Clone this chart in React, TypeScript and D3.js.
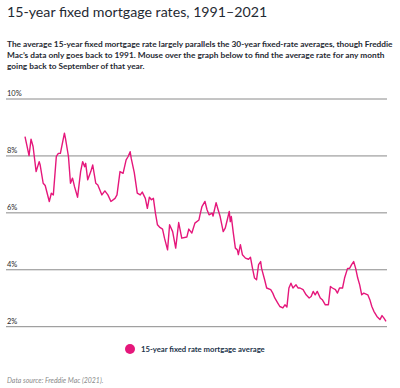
import React from "react";
import * as d3 from "d3";

const dates = [
  "1991-09","1992-01","1992-03","1992-05","1992-08","1992-11","1992-12","1993-03","1993-05","1993-09",
  "1993-11","1994-01","1994-04","1994-06","1994-08","1994-12","1995-01","1995-04","1995-06","1995-08",
  "1995-10","1996-01","1996-04","1996-06","1996-08","1996-09","1996-11","1997-02","1997-04","1997-07",
  "1997-09","1998-01","1998-04","1998-07","1998-10","1999-02","1999-04","1999-07","1999-10","2000-01",
  "2000-03","2000-05","2000-06","2000-09","2000-12","2001-03","2001-05","2001-08","2001-10","2001-12",
  "2002-02","2002-04","2002-06","2002-08","2002-10","2003-01","2003-03","2003-06","2003-08","2003-11",
  "2004-02","2004-05","2004-08","2005-01","2005-03","2005-06","2005-09","2006-01","2006-02","2006-04",
  "2006-07","2006-09","2006-11","2007-02","2007-03","2007-06","2007-08","2007-10","2008-01","2008-03",
  "2008-05","2008-07","2008-08","2008-09","2008-11","2009-01","2009-03","2009-04","2009-06","2009-08",
  "2009-11","2010-02","2010-04","2010-06","2010-08","2010-10","2010-12","2011-02","2011-03","2011-06",
  "2011-08","2011-12","2012-02","2012-04","2012-07","2012-09","2012-12","2013-02","2013-04","2013-06",
  "2013-08","2013-10","2014-01","2014-03","2014-05","2014-08","2014-11","2015-02","2015-04","2015-06",
  "2015-08","2015-10","2016-01","2016-03","2016-06","2016-09","2016-11","2017-01","2017-04","2017-06",
  "2017-08","2017-11","2018-01","2018-04","2018-06","2018-08","2018-10","2018-12","2019-02","2019-04",
  "2019-06","2019-08","2019-12","2020-02","2020-04","2020-06","2020-09","2020-12","2021-02","2021-04",
  "2021-06",
];

const rates = [
  8.68,8.01,8.59,8.33,7.45,7.80,7.68,7.04,6.96,6.40,
  6.69,6.63,7.98,8.09,8.09,8.80,8.62,7.98,7.04,7.22,
  6.92,6.55,7.45,7.80,7.62,7.74,7.16,7.45,7.68,7.04,
  6.98,6.63,6.77,6.63,6.40,6.51,6.63,7.45,7.39,7.86,
  7.98,8.15,7.92,7.42,6.69,6.63,6.73,6.51,6.16,6.55,
  6.46,6.51,5.99,5.58,5.50,5.43,5.11,4.70,5.58,5.34,
  4.76,5.66,5.11,5.15,5.43,5.29,5.64,5.75,5.93,6.22,
  6.40,6.11,5.93,5.99,5.89,6.36,6.11,5.87,5.34,5.46,
  5.75,6.05,5.69,5.87,5.29,4.76,4.70,4.53,4.88,4.53,
  4.41,4.37,4.44,4.05,3.71,3.65,4.18,4.29,4.05,3.65,
  3.36,3.30,3.18,3.01,2.83,2.71,2.66,2.77,2.69,3.36,
  3.53,3.36,3.47,3.36,3.36,3.30,3.12,3.01,3.06,3.24,
  3.12,3.24,3.01,2.95,2.77,2.77,3.41,3.36,3.30,3.18,
  3.36,3.36,3.71,4.05,4.05,4.18,4.29,4.05,3.71,3.47,
  3.12,3.18,3.12,2.95,2.71,2.54,2.36,2.25,2.39,2.30,
  2.19,
];

const yTicks = [10, 8, 6, 4, 2];

const title = "15-year fixed mortgage rates, 1991\u20132021";
const descLines = [
  "The average 15-year fixed mortgage rate largely parallels the 30-year fixed-rate averages, though Freddie",
  "Mac\u2019s data only goes back to 1991. Mouse over the graph below to find the average rate for any month",
  "going back to September of that year.",
];
const legendLabel = "15-year fixed rate mortgage average";
const sourceText = "Data source: Freddie Mac (2021).";

const PINK = "#e5177b";
const FONT = "Lato, 'Open Sans', sans-serif";

export default function App() {
  const parse = d3.timeParse("%Y-%m");
  const data = dates.map((d, i) => ({ date: parse(d) as Date, v: rates[i] }));
  const x = d3
    .scaleTime()
    .domain(d3.extent(data, (d) => d.date) as [Date, Date])
    .range([25, 386]);
  const y = d3.scaleLinear().domain([2, 10]).range([326.7, 99]);
  const line = d3
    .line<{ date: Date; v: number }>()
    .x((d) => x(d.date))
    .y((d) => y(d.v))
    .curve(d3.curveLinear);

  return (
    <svg
      width={400}
      height={388}
      style={{ position: "absolute", left: 0, top: 0, background: "#fff" }}
      fontFamily={FONT}
    >
      <text x={7} y={17} fontSize={14.2} fill="#1f2a33">
        {title}
      </text>
      {descLines.map((l, i) => (
        <text key={i} x={7} y={47 + i * 11} fontSize={8.3} fontWeight={700} fill="#1f2a33">
          {l}
        </text>
      ))}
      {yTicks.map((t) => (
        <g key={t}>
          <line x1={6} x2={387} y1={y(t)} y2={y(t)} stroke="#8a8a8a" strokeWidth={1} />
          <text x={7} y={y(t) - 3} fontSize={7.5} fill="#2a2a2a">
            {t}%
          </text>
        </g>
      ))}
      <path d={line(data) || ""} fill="none" stroke={PINK} strokeWidth={1.4} strokeLinejoin="round" />
      <circle cx={130} cy={349} r={5} fill={PINK} />
      <text x={141} y={352} fontSize={7.7} fontWeight={700} fill="#22334a">
        {legendLabel}
      </text>
      <text x={7} y={383} fontSize={6.95} fontStyle="italic" fill="#8a8a8a">
        {sourceText}
      </text>
    </svg>
  );
}
